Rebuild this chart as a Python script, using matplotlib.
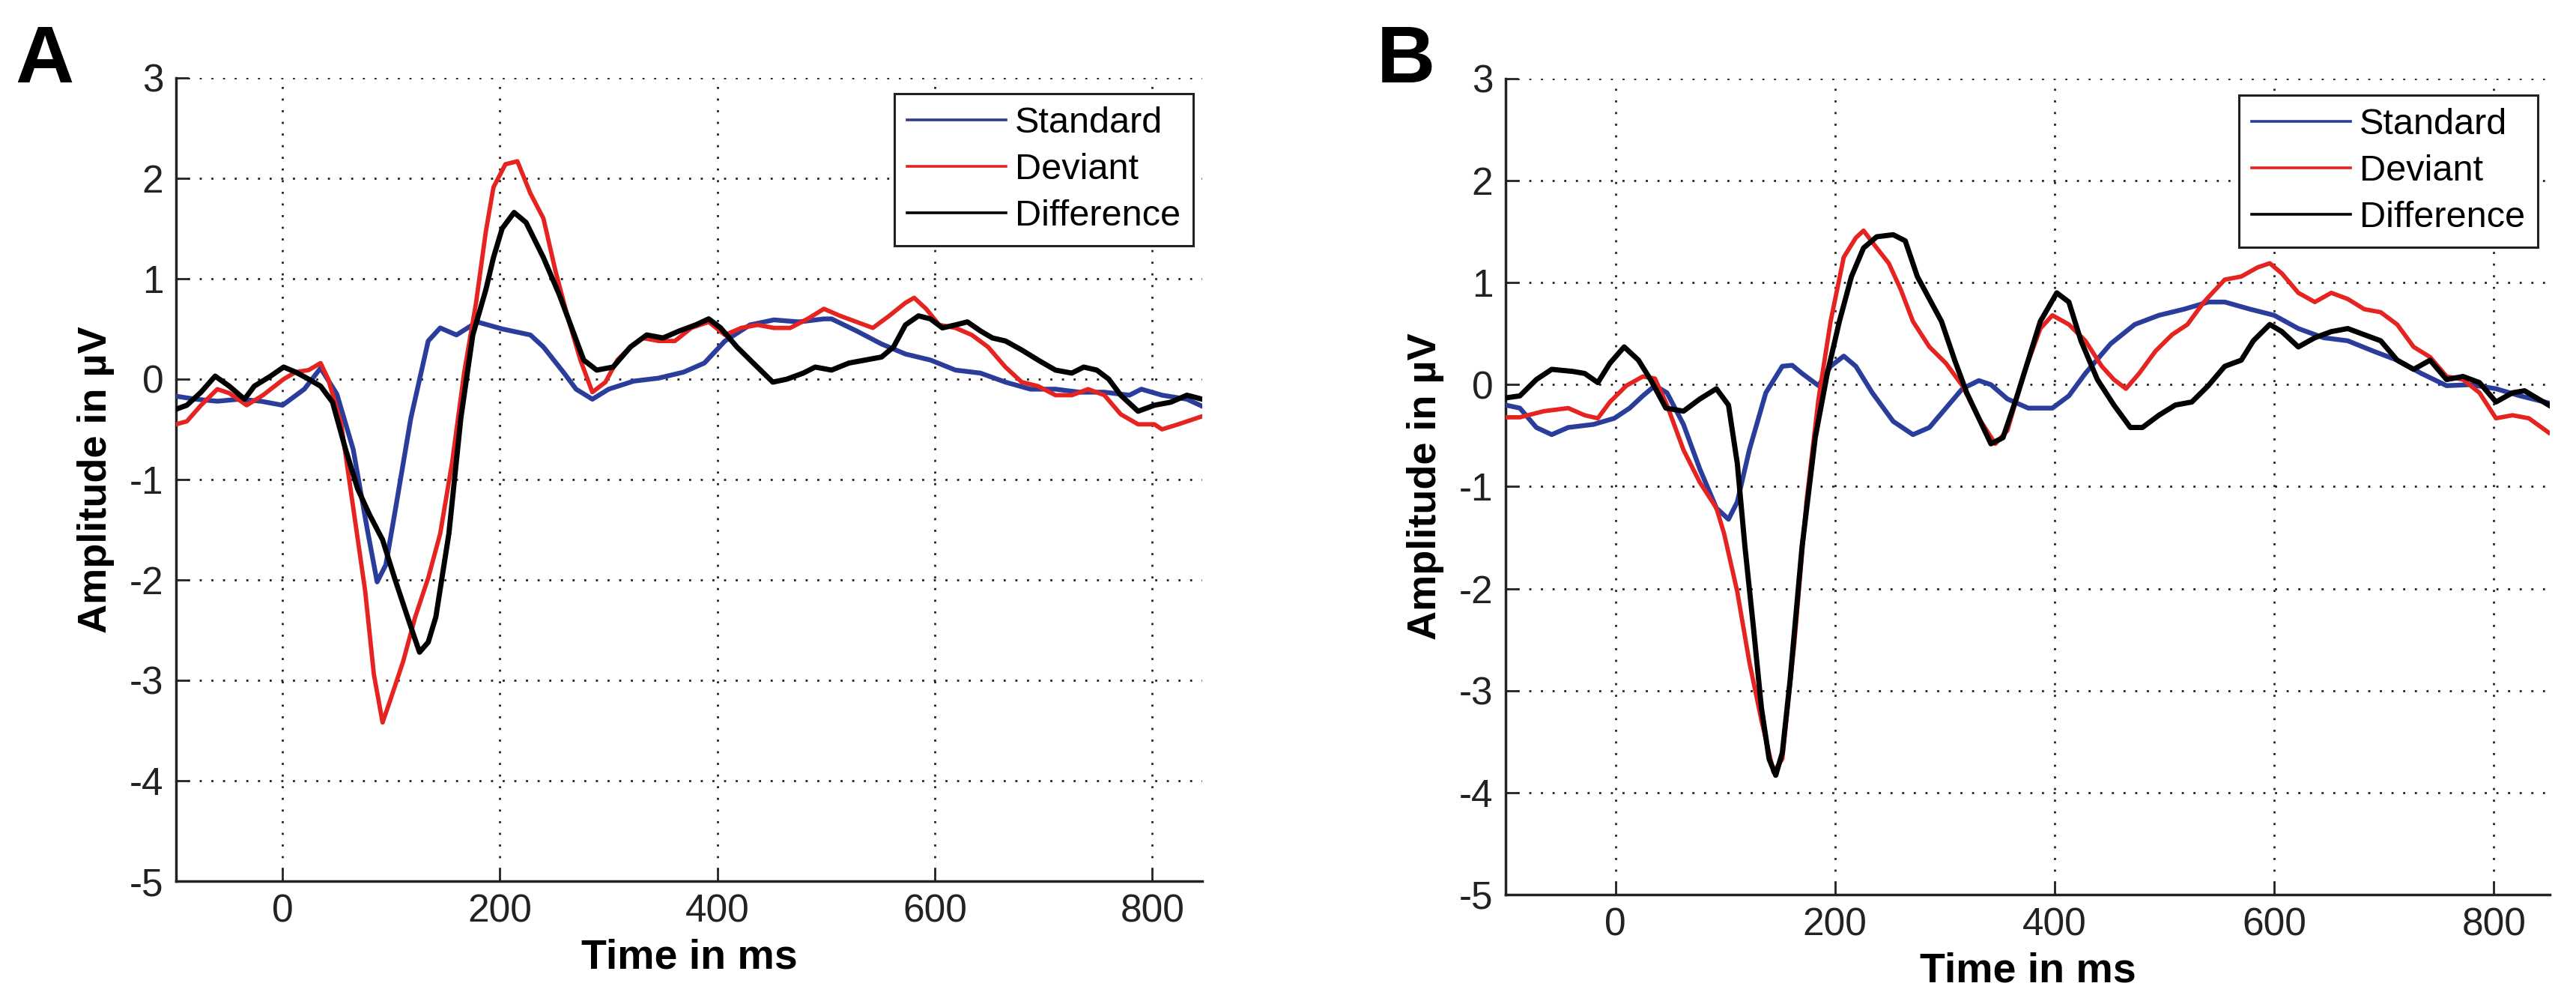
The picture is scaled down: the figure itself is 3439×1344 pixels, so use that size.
import matplotlib
matplotlib.use('Agg')
import matplotlib.pyplot as plt
from matplotlib.lines import Line2D
import numpy as np

plt.rcParams['font.family'] = ['Liberation Sans', 'DejaVu Sans']
plt.rcParams['axes.unicode_minus'] = False

BLUE = '#2b3d9b'
RED = '#e52421'
BLACK = '#000000'

# ---- panel A ----
a_std_t = [-98, -80, -60, -40, -20, 0, 20, 35, 50, 65, 78, 87, 95, 103, 118, 134, 145, 160, 179,
           202, 228, 240, 259, 270, 285, 300, 323, 346, 369, 388, 407, 430, 452, 475, 498, 505,
           528, 551, 573, 596, 619, 642, 665, 688, 711, 733, 756, 779, 790, 809, 832, 846]
a_std_v = [-0.17, -0.2, -0.22, -0.2, -0.22, -0.26, -0.1, 0.11, -0.15, -0.7, -1.5, -2.02, -1.85, -1.35,
           -0.39, 0.38, 0.51, 0.44, 0.57, 0.5, 0.44, 0.32, 0.06, -0.1, -0.2, -0.1, -0.02, 0.01,
           0.07, 0.16, 0.38, 0.54, 0.59, 0.57, 0.6, 0.6, 0.48, 0.35, 0.25, 0.19, 0.09, 0.06,
           -0.03, -0.1, -0.1, -0.13, -0.13, -0.16, -0.1, -0.16, -0.2, -0.27]

a_dev_t = [-98, -88, -75, -60, -49, -33, -18, 1, 12, 24, 35, 42, 54, 65, 76, 84, 92, 99, 111, 122,
           134, 145, 156, 167, 178, 187, 194, 205, 216, 228, 240, 251, 262, 274, 285, 297, 308,
           320, 331, 346, 361, 376, 392, 407, 422, 437, 452, 467, 483, 498, 513, 528, 543, 558,
           573, 581, 592, 604, 619, 634, 649, 665, 680, 695, 711, 726, 741, 756, 771, 787, 802,
           809, 824, 846]
a_dev_v = [-0.45, -0.42, -0.26, -0.1, -0.14, -0.26, -0.16, 0.0, 0.07, 0.09, 0.16, 0.0, -0.45, -1.28,
           -2.11, -2.94, -3.42, -3.2, -2.81, -2.37, -1.98, -1.54, -0.83, 0.06, 0.76, 1.47, 1.91,
           2.14, 2.17, 1.85, 1.6, 1.08, 0.63, 0.19, -0.13, -0.03, 0.19, 0.32, 0.41, 0.38, 0.38,
           0.51, 0.57, 0.44, 0.51, 0.54, 0.51, 0.51, 0.6, 0.7, 0.63, 0.57, 0.51, 0.63, 0.76,
           0.81, 0.7, 0.54, 0.51, 0.44, 0.32, 0.12, -0.03, -0.07, -0.16, -0.16, -0.1, -0.16,
           -0.35, -0.45, -0.45, -0.5, -0.45, -0.37]

a_dif_t = [-98, -88, -75, -62, -49, -35, -26, -11, 1, 12, 24, 35, 46, 58, 69, 80, 92, 103, 115,
           126, 134, 141, 153, 164, 175, 187, 194, 202, 213, 224, 240, 255, 266, 277, 289, 304,
           320, 335, 350, 365, 380, 392, 403, 418, 433, 451, 464, 479, 490, 505, 521, 536, 551,
           562, 573, 585, 596, 607, 619, 630, 642, 653, 665, 680, 695, 711, 726, 737, 749, 760,
           771, 787, 802, 817, 832, 846]
a_dif_v = [-0.3, -0.26, -0.13, 0.03, -0.07, -0.2, -0.07, 0.03, 0.12, 0.07, 0.0, -0.07, -0.23, -0.7,
           -1.09, -1.35, -1.6, -1.98, -2.37, -2.72, -2.62, -2.37, -1.54, -0.39, 0.44, 0.89, 1.21,
           1.5, 1.66, 1.56, 1.21, 0.83, 0.51, 0.19, 0.09, 0.12, 0.32, 0.44, 0.41, 0.48, 0.54,
           0.6, 0.51, 0.32, 0.16, -0.03, 0.0, 0.06, 0.12, 0.09, 0.16, 0.19, 0.22, 0.32, 0.54,
           0.63, 0.6, 0.51, 0.54, 0.57, 0.48, 0.41, 0.38, 0.29, 0.19, 0.09, 0.06, 0.12, 0.09,
           0.0, -0.16, -0.32, -0.26, -0.23, -0.16, -0.2]

# ---- panel B ----
b_std_t = [-100, -87, -72, -58, -43, -20, -1, 13, 25, 36, 47, 62, 77, 92, 103, 111, 122, 137, 152,
           161, 170, 185, 196, 208, 219, 234, 253, 271, 286, 301, 316, 331, 342, 357, 376, 398,
           413, 428, 451, 473, 495, 518, 540, 555, 578, 600, 622, 645, 667, 690, 712, 734, 757,
           779, 802, 824, 850]
b_std_v = [-0.2, -0.23, -0.42, -0.49, -0.42, -0.39, -0.33, -0.23, -0.11, -0.01, -0.08, -0.39, -0.83,
           -1.21, -1.32, -1.15, -0.64, -0.08, 0.18, 0.19, 0.11, -0.01, 0.18, 0.28, 0.18, -0.08,
           -0.36, -0.49, -0.42, -0.23, -0.04, 0.04, 0.0, -0.14, -0.23, -0.23, -0.11, 0.11, 0.4,
           0.59, 0.68, 0.74, 0.81, 0.81, 0.74, 0.68, 0.55, 0.46, 0.43, 0.33, 0.24, 0.11, -0.01,
           0.0, -0.04, -0.11, -0.18]

b_dev_t = [-100, -87, -65, -43, -28, -16, -5, 10, 25, 36, 47, 62, 77, 92, 99, 111, 122, 133, 144,
           152, 163, 174, 185, 196, 208, 219, 226, 238, 249, 260, 271, 286, 301, 316, 331, 346,
           357, 372, 387, 398, 413, 428, 443, 454, 465, 477, 492, 507, 521, 536, 555, 570, 585,
           596, 607, 622, 637, 652, 667, 682, 697, 712, 727, 742, 757, 772, 787, 802, 817, 832,
           850]
b_dev_v = [-0.32, -0.32, -0.26, -0.23, -0.3, -0.33, -0.17, -0.01, 0.08, 0.06, -0.2, -0.64, -0.96,
           -1.21, -1.46, -2.03, -2.72, -3.29, -3.8, -3.67, -2.53, -1.15, -0.14, 0.62, 1.25, 1.44,
           1.51, 1.34, 1.19, 0.93, 0.62, 0.37, 0.21, -0.01, -0.33, -0.58, -0.45, 0.11, 0.55,
           0.68, 0.59, 0.43, 0.18, 0.05, -0.04, 0.11, 0.33, 0.49, 0.59, 0.81, 1.03, 1.06, 1.15,
           1.19, 1.09, 0.9, 0.81, 0.9, 0.84, 0.74, 0.71, 0.59, 0.37, 0.27, 0.08, 0.05, -0.08,
           -0.33, -0.3, -0.33, -0.47]

b_dif_t = [-100, -87, -72, -58, -39, -28, -16, -5, 8, 21, 32, 46, 62, 77, 92, 103, 111, 118, 126,
           133, 140, 146, 152, 159, 170, 182, 193, 204, 215, 226, 238, 253, 264, 275, 286, 297,
           309, 320, 331, 342, 353, 365, 376, 387, 402, 413, 424, 439, 454, 469, 480, 495, 510,
           525, 540, 555, 570, 581, 596, 607, 622, 637, 652, 667, 682, 697, 712, 727, 742, 757,
           772, 787, 802, 817, 828, 850]
b_dif_v = [-0.13, -0.11, 0.05, 0.15, 0.13, 0.11, 0.02, 0.21, 0.37, 0.24, 0.05, -0.23, -0.26, -0.14,
           -0.04, -0.2, -0.77, -1.59, -2.41, -3.17, -3.67, -3.83, -3.61, -2.91, -1.59, -0.52,
           0.11, 0.62, 1.06, 1.34, 1.45, 1.47, 1.41, 1.06, 0.84, 0.62, 0.24, -0.08, -0.33,
           -0.58, -0.52, -0.14, 0.24, 0.62, 0.9, 0.81, 0.43, 0.05, -0.2, -0.42, -0.42, -0.3,
           -0.2, -0.17, -0.01, 0.18, 0.24, 0.43, 0.59, 0.52, 0.37, 0.46, 0.52, 0.55, 0.49, 0.43,
           0.24, 0.15, 0.24, 0.05, 0.08, 0.02, -0.17, -0.08, -0.06, -0.2]

labels = ['Standard', 'Deviant', 'Difference']
x_ticks = [0, 200, 400, 600, 800]
y_ticks = [-5, -4, -3, -2, -1, 0, 1, 2, 3]

fig = plt.figure(figsize=(34.39, 13.44), dpi=100)
ax_a = fig.add_axes([0.06833, 0.125, 0.39837, 0.79762])
ax_b = fig.add_axes([0.58447, 0.11161, 0.40535, 0.81027])

panels = [
    (ax_a, (a_std_t, a_std_v), (a_dev_t, a_dev_v), (a_dif_t, a_dif_v), (-98, 846), (0.4632, 0.907)),
    (ax_b, (b_std_t, b_std_v), (b_dev_t, b_dev_v), (b_dif_t, b_dif_v), (-100, 851), (0.98517, 0.9055)),
]

for ax, std, dev, dif, xlim, leg_pos in panels:
    ax.plot(std[0], std[1], color=BLUE, lw=4.6, zorder=3)
    ax.plot(dev[0], dev[1], color=RED, lw=4.2, zorder=4)
    ax.plot(dif[0], dif[1], color=BLACK, lw=5.0, zorder=5)
    ax.set_xlim(*xlim)
    ax.set_ylim(-5, 3)
    ax.set_xticks(x_ticks)
    ax.set_yticks(y_ticks)
    ax.grid(True, color='#222222', lw=2.0, linestyle=(0, (1, 4.6)))
    ax.spines['top'].set_visible(False)
    ax.spines['right'].set_visible(False)
    for s in ['left', 'bottom']:
        ax.spines[s].set_linewidth(2.5)
        ax.spines[s].set_color('#222222')
    ax.tick_params(direction='in', length=12, width=2, pad=12, labelsize=37,
                   colors='#222222', labelcolor='#222222')
    ax.set_xlabel('Time in ms', fontsize=40, fontweight='bold', labelpad=8)
    ax.set_ylabel('Amplitude in µV', fontsize=39, fontweight='bold', labelpad=14)
    handles = [Line2D([], [], color=c, lw=2.6) for c in (BLUE, RED, BLACK)]
    leg = ax.legend(handles, labels, loc='upper right', bbox_to_anchor=leg_pos,
                    bbox_transform=fig.transFigure, borderaxespad=0, fontsize=35,
                    handlelength=2.7, handletextpad=0.25, labelspacing=0.35,
                    borderpad=0.35, fancybox=False, framealpha=1)
    leg.get_frame().set_edgecolor('#222222')
    leg.get_frame().set_linewidth(2.2)
    leg.set_zorder(10)

fig.text(20 / 3439, 1 - 110 / 1344, 'A', fontsize=78, fontweight='bold', ha='left', va='baseline')
fig.text(1838 / 3439, 1 - 110 / 1344, 'B', fontsize=78, fontweight='bold', ha='left', va='baseline')

fig.savefig('out.png', dpi=100)
